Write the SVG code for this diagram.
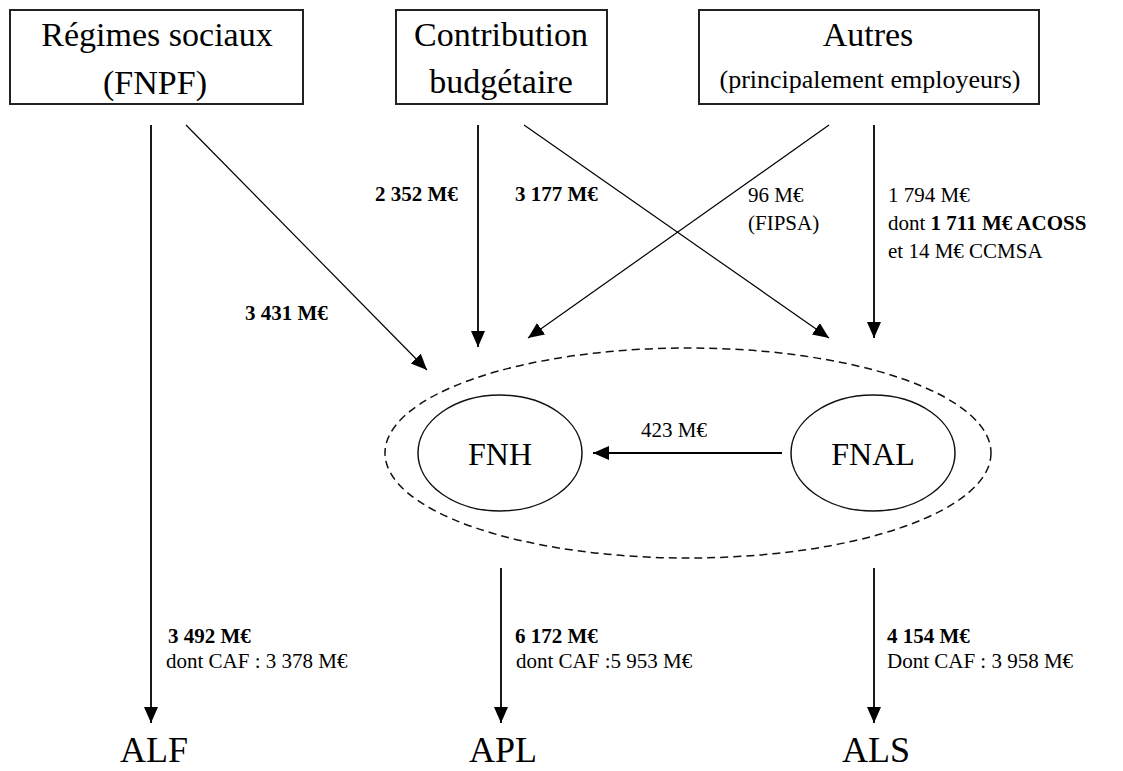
<svg xmlns="http://www.w3.org/2000/svg" width="1123" height="771" viewBox="0 0 1123 771">
<style>
text{font-family:"Liberation Serif","Times New Roman",serif;fill:#000}
.box{fill:#fff;stroke:#222;stroke-width:2}
.t{font-size:34px;text-anchor:middle}
.s{font-size:26px;text-anchor:middle}
.l{font-size:21px}
.b{font-weight:bold}
.big{font-size:36px;text-anchor:middle}
.ell{fill:none;stroke:#111;stroke-width:1.5}
.dash{fill:none;stroke:#111;stroke-width:1.5;stroke-dasharray:8 5}
.v{stroke:#000;stroke-width:1.8;fill:none;marker-end:url(#ah)}
.d{stroke:#000;stroke-width:1.2;fill:none;marker-end:url(#ah)}
</style>
<defs>
<marker id="ah" markerUnits="userSpaceOnUse" markerWidth="18" markerHeight="16" refX="16" refY="7" orient="auto">
<path d="M0,0 L16,7 L0,14 z" fill="#000"/>
</marker>
</defs>
<rect width="1123" height="771" fill="#fff"/>

<g id="node-regimes">
<rect class="box" x="10" y="10" width="293" height="94"/>
<text class="t" x="157" y="46">Régimes sociaux</text>
<text class="t" x="155" y="94">(FNPF)</text>
</g>
<g id="node-contribution">
<rect class="box" x="396" y="10" width="211" height="94"/>
<text class="t" x="501" y="46">Contribution</text>
<text class="t" x="501" y="93">budgétaire</text>
</g>
<g id="node-autres">
<rect class="box" x="699" y="10" width="340" height="94"/>
<text class="t" x="868" y="46">Autres</text>
<text class="s" x="870" y="88">(principalement employeurs)</text>
</g>

<g id="node-group">
<ellipse class="dash" cx="688" cy="453" rx="303" ry="105"/>
</g>
<g id="node-fnh">
<ellipse class="ell" cx="500" cy="453" rx="82" ry="58"/>
<text class="t" x="500" y="465" style="font-size:32px">FNH</text>
</g>
<g id="node-fnal">
<ellipse class="ell" cx="873" cy="453" rx="82" ry="58"/>
<text class="t" x="873" y="465" style="font-size:32px">FNAL</text>
</g>
<g id="node-alf"><text class="big" x="154" y="762">ALF</text></g>
<g id="node-apl"><text class="big" x="503" y="762">APL</text></g>
<g id="node-als"><text class="big" x="876" y="762">ALS</text></g>

<g id="connectors">
<line class="v" x1="151" y1="125" x2="151" y2="723"/>
<line class="d" x1="186" y1="125" x2="427" y2="370"/>
<line class="v" x1="478" y1="125" x2="478" y2="347"/>
<line class="d" x1="524" y1="125" x2="829" y2="338"/>
<line class="d" x1="829" y1="125" x2="528" y2="338"/>
<line class="v" x1="874" y1="125" x2="874" y2="338"/>
<line class="v" x1="782" y1="453" x2="593" y2="453"/>
<line class="v" x1="501" y1="568" x2="501" y2="723"/>
<line class="v" x1="874" y1="568" x2="874" y2="723"/>

<text class="l b" x="375" y="201">2 352 M€</text>
<text class="l b" x="515" y="201">3 177 M€</text>
<text class="l b" x="245" y="320">3 431 M€</text>
<text class="l" x="748" y="202">96 M€</text>
<text class="l" x="748" y="230">(FIPSA)</text>
<text class="l" x="888" y="202">1 794 M€</text>
<text class="l" x="888" y="230">dont <tspan class="b">1 711 M€ ACOSS</tspan></text>
<text class="l" x="888" y="258">et 14 M€ CCMSA</text>
<text class="l" x="641" y="437">423 M€</text>
<text class="l b" x="168" y="643">3 492 M€</text>
<text class="l" x="166" y="668">dont CAF : 3 378 M€</text>
<text class="l b" x="515" y="643">6 172 M€</text>
<text class="l" x="516" y="668">dont CAF :5 953 M€</text>
<text class="l b" x="887" y="643">4 154 M€</text>
<text class="l" x="887" y="668">Dont CAF : 3 958 M€</text>
</g>
</svg>
